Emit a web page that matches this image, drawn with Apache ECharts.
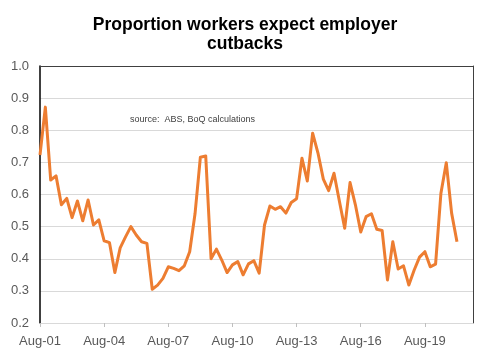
<!DOCTYPE html>
<html>
<head>
<meta charset="utf-8">
<script src="https://cdn.jsdelivr.net/npm/echarts@6/dist/echarts.min.js"></script>
<style>
html,body{margin:0;padding:0;background:#fff;}
#chart{width:490px;height:357px;}
</style>
</head>
<body>
<div id="chart"></div>
<script>
// Quarterly observations, Aug-01 .. Feb-21 (axis runs a little beyond)
const monthNames = ['Aug', 'Nov', 'Feb', 'May'];
const startYear = 2001;
const categoryCount = 82;
const categories = [];
for (let i = 0; i < categoryCount; i++) {
  const q = i % 4;
  const yr = startYear + Math.floor(i / 4) + (q >= 2 ? 1 : 0);
  categories.push(monthNames[q] + '-' + String(yr % 100).padStart(2, '0'));
}

const cutbackShare = [
  0.723, 0.872, 0.645, 0.658, 0.568, 0.588, 0.528, 0.580, 0.518, 0.583,
  0.505, 0.521, 0.456, 0.450, 0.357, 0.434, 0.468, 0.500, 0.474, 0.453,
  0.448, 0.305, 0.318, 0.339, 0.375, 0.370, 0.363, 0.378, 0.422, 0.540,
  0.716, 0.720, 0.400, 0.430, 0.396, 0.357, 0.381, 0.391, 0.350, 0.384,
  0.394, 0.355, 0.505, 0.564, 0.554, 0.562, 0.542, 0.575, 0.587, 0.713,
  0.642, 0.791, 0.729, 0.648, 0.612, 0.666, 0.580, 0.495, 0.637, 0.568,
  0.483, 0.531, 0.540, 0.492, 0.488, 0.334, 0.453, 0.368, 0.378, 0.318,
  0.365, 0.405, 0.422, 0.375, 0.383, 0.604, 0.699, 0.542, 0.453
];

const titleText = 'Proportion workers expect employer\ncutbacks';
const sourceText = 'source:  ABS, BoQ calculations';
const yMin = 0.2, yMax = 1.0, yStep = 0.1;

const chart = echarts.init(document.getElementById('chart'), null, {renderer: 'canvas'});
const font = '"Liberation Sans", Arial, sans-serif';
chart.setOption({
  animation: false,
  backgroundColor: '#ffffff',
  title: {
    text: titleText,
    left: 'center',
    top: 16,
    padding: 0,
    textStyle: {
      fontFamily: font, fontSize: 17.5, fontWeight: 'bold',
      color: '#000000', lineHeight: 19
    }
  },
  graphic: [{
    type: 'text',
    left: 130,
    top: 115,
    style: {
      text: sourceText,
      font: '9px ' + font,
      fill: '#404040'
    }
  }],
  grid: {left: 40, right: 17, top: 66, bottom: 34},
  xAxis: [{
    type: 'category',
    data: categories,
    boundaryGap: false,
    axisLine: {lineStyle: {color: '#d9d9d9', width: 1}},
    axisTick: {show: true, interval: 11, length: 4, lineStyle: {color: '#bfbfbf'}},
    axisLabel: {
      interval: 11, margin: 12,
      fontFamily: font, fontSize: 13, color: '#595959'
    },
    splitLine: {show: false}
  }, {
    type: 'category',
    position: 'top',
    data: categories,
    boundaryGap: false,
    axisLine: {show: true, lineStyle: {color: '#404040', width: 1}},
    axisTick: {show: false},
    axisLabel: {show: false}
  }],
  yAxis: [{
    type: 'value',
    min: yMin, max: yMax, interval: yStep,
    axisLine: {show: true, lineStyle: {color: '#000000', width: 1.5}},
    axisTick: {show: false},
    axisLabel: {
      margin: 11,
      fontFamily: font, fontSize: 13, color: '#595959',
      formatter: v => v.toFixed(1)
    },
    splitLine: {show: true, lineStyle: {color: '#d9d9d9', width: 1}}
  }, {
    type: 'value',
    position: 'right',
    min: yMin, max: yMax, interval: yStep,
    axisLine: {show: true, lineStyle: {color: '#404040', width: 1}},
    axisTick: {show: false},
    axisLabel: {show: false},
    splitLine: {show: false}
  }],
  series: [{
    type: 'line',
    data: cutbackShare,
    xAxisIndex: 0,
    yAxisIndex: 0,
    symbol: 'none',
    smooth: false,
    lineStyle: {color: '#ED7D31', width: 3, join: 'round'},
    z: 3
  }]
});
</script>
</body>
</html>
